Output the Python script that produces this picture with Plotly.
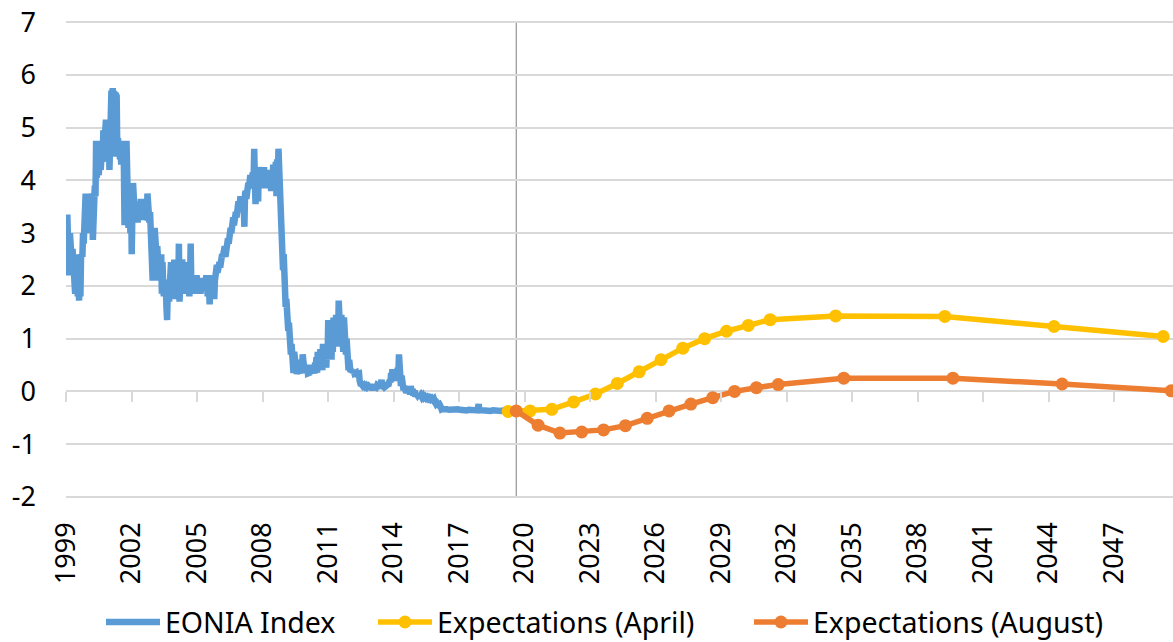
import plotly.graph_objects as go

# ---------------- data ----------------
eonia_year = [
    1999.00, 1999.02, 1999.04, 1999.06, 1999.08, 1999.10, 1999.12, 1999.15, 1999.18, 1999.21,
    1999.24, 1999.27, 1999.30, 1999.33, 1999.36, 1999.39, 1999.42, 1999.45, 1999.48, 1999.51,
    1999.54, 1999.57, 1999.60, 1999.63, 1999.66, 1999.69, 1999.72, 1999.75, 1999.78, 1999.81,
    1999.84, 1999.87, 1999.90, 1999.93, 1999.96, 1999.99, 2000.02, 2000.05, 2000.08, 2000.11,
    2000.14, 2000.17, 2000.20, 2000.23, 2000.26, 2000.29, 2000.32, 2000.35, 2000.38, 2000.41,
    2000.44, 2000.47, 2000.50, 2000.53, 2000.56, 2000.59, 2000.62, 2000.65, 2000.68, 2000.71,
    2000.74, 2000.77, 2000.80, 2000.83, 2000.86, 2000.89, 2000.92, 2000.95, 2000.99, 2001.02,
    2001.05, 2001.08, 2001.11, 2001.14, 2001.17, 2001.20, 2001.23, 2001.26, 2001.29, 2001.32,
    2001.35, 2001.38, 2001.41, 2001.44, 2001.47, 2001.50, 2001.53, 2001.56, 2001.59, 2001.62,
    2001.65, 2001.68, 2001.71, 2001.74, 2001.77, 2001.80, 2001.83, 2001.86, 2001.89, 2001.92,
    2001.95, 2001.98, 2002.01, 2002.04, 2002.07, 2002.10, 2002.13, 2002.16, 2002.19, 2002.22,
    2002.25, 2002.28, 2002.31, 2002.34, 2002.37, 2002.40, 2002.43, 2002.46, 2002.49, 2002.52,
    2002.55, 2002.58, 2002.61, 2002.64, 2002.67, 2002.70, 2002.73, 2002.76, 2002.79, 2002.82,
    2002.85, 2002.88, 2002.91, 2002.94, 2002.97, 2003.00, 2003.03, 2003.06, 2003.09, 2003.12,
    2003.15, 2003.18, 2003.21, 2003.24, 2003.27, 2003.30, 2003.33, 2003.36, 2003.39, 2003.42,
    2003.45, 2003.48, 2003.51, 2003.54, 2003.57, 2003.60, 2003.63, 2003.66, 2003.69, 2003.72,
    2003.75, 2003.78, 2003.81, 2003.84, 2003.87, 2003.90, 2003.93, 2003.96, 2003.99, 2004.02,
    2004.05, 2004.08, 2004.11, 2004.14, 2004.17, 2004.20, 2004.23, 2004.26, 2004.29, 2004.32,
    2004.35, 2004.38, 2004.41, 2004.44, 2004.47, 2004.50, 2004.53, 2004.56, 2004.59, 2004.62,
    2004.65, 2004.68, 2004.71, 2004.74, 2004.77, 2004.80, 2004.83, 2004.86, 2004.89, 2004.92,
    2004.95, 2004.98, 2005.01, 2005.04, 2005.07, 2005.10, 2005.13, 2005.16, 2005.19, 2005.22,
    2005.25, 2005.28, 2005.31, 2005.34, 2005.37, 2005.40, 2005.43, 2005.46, 2005.49, 2005.52,
    2005.55, 2005.58, 2005.61, 2005.64, 2005.67, 2005.70, 2005.73, 2005.76, 2005.79, 2005.82,
    2005.85, 2005.88, 2005.91, 2005.94, 2005.97, 2006.00, 2006.03, 2006.06, 2006.09, 2006.12,
    2006.15, 2006.18, 2006.21, 2006.24, 2006.27, 2006.30, 2006.33, 2006.36, 2006.39, 2006.42,
    2006.45, 2006.48, 2006.51, 2006.54, 2006.57, 2006.60, 2006.63, 2006.66, 2006.69, 2006.72,
    2006.75, 2006.78, 2006.81, 2006.84, 2006.87, 2006.90, 2006.93, 2006.96, 2006.99, 2007.02,
    2007.05, 2007.08, 2007.11, 2007.14, 2007.17, 2007.20, 2007.23, 2007.26, 2007.29, 2007.32,
    2007.35, 2007.38, 2007.41, 2007.44, 2007.47, 2007.50, 2007.53, 2007.56, 2007.59, 2007.62,
    2007.65, 2007.68, 2007.71, 2007.74, 2007.77, 2007.80, 2007.83, 2007.86, 2007.89, 2007.92,
    2007.95, 2007.98, 2008.01, 2008.04, 2008.07, 2008.10, 2008.13, 2008.16, 2008.19, 2008.22,
    2008.25, 2008.28, 2008.31, 2008.34, 2008.37, 2008.40, 2008.43, 2008.46, 2008.49, 2008.52,
    2008.55, 2008.58, 2008.61, 2008.64, 2008.67, 2008.70, 2008.73, 2008.76, 2008.79, 2008.82,
    2008.85, 2008.88, 2008.91, 2008.94, 2008.97, 2009.00, 2009.03, 2009.06, 2009.09, 2009.12,
    2009.15, 2009.18, 2009.21, 2009.24, 2009.27, 2009.30, 2009.33, 2009.36, 2009.39, 2009.42,
    2009.45, 2009.48, 2009.51, 2009.54, 2009.57, 2009.60, 2009.63, 2009.66, 2009.69, 2009.72,
    2009.75, 2009.78, 2009.81, 2009.84, 2009.87, 2009.90, 2009.93, 2009.96, 2009.99, 2010.02,
    2010.05, 2010.08, 2010.11, 2010.14, 2010.17, 2010.20, 2010.23, 2010.26, 2010.29, 2010.32,
    2010.35, 2010.38, 2010.41, 2010.44, 2010.47, 2010.50, 2010.53, 2010.56, 2010.59, 2010.62,
    2010.65, 2010.68, 2010.71, 2010.74, 2010.77, 2010.80, 2010.83, 2010.86, 2010.89, 2010.92,
    2010.95, 2010.98, 2011.01, 2011.04, 2011.07, 2011.10, 2011.13, 2011.16, 2011.19, 2011.22,
    2011.25, 2011.28, 2011.31, 2011.34, 2011.37, 2011.40, 2011.43, 2011.46, 2011.49, 2011.52,
    2011.55, 2011.58, 2011.61, 2011.64, 2011.67, 2011.70, 2011.73, 2011.76, 2011.79, 2011.82,
    2011.85, 2011.88, 2011.91, 2011.94, 2011.97, 2012.00, 2012.03, 2012.06, 2012.09, 2012.12,
    2012.15, 2012.18, 2012.21, 2012.24, 2012.27, 2012.30, 2012.33, 2012.36, 2012.39, 2012.42,
    2012.45, 2012.48, 2012.51, 2012.55, 2012.60, 2012.65, 2012.70, 2012.75, 2012.80, 2012.85,
    2012.90, 2012.95, 2013.00, 2013.05, 2013.10, 2013.15, 2013.20, 2013.25, 2013.30, 2013.35,
    2013.40, 2013.45, 2013.48, 2013.52, 2013.56, 2013.60, 2013.64, 2013.68, 2013.72, 2013.76,
    2013.80, 2013.83, 2013.86, 2013.89, 2013.92, 2013.95, 2013.98, 2014.01, 2014.04, 2014.07,
    2014.10, 2014.13, 2014.16, 2014.19, 2014.22, 2014.25, 2014.28, 2014.31, 2014.34, 2014.37,
    2014.40, 2014.43, 2014.46, 2014.49, 2014.52, 2014.55, 2014.58, 2014.61, 2014.64, 2014.67,
    2014.70, 2014.73, 2014.76, 2014.79, 2014.82, 2014.85, 2014.88, 2014.91, 2014.94, 2014.97,
    2015.00, 2015.05, 2015.10, 2015.15, 2015.20, 2015.25, 2015.30, 2015.35, 2015.40, 2015.45,
    2015.50, 2015.55, 2015.60, 2015.65, 2015.70, 2015.75, 2015.80, 2015.85, 2015.90, 2015.95,
    2016.00, 2016.05, 2016.10, 2016.15, 2016.20, 2016.25, 2016.30, 2016.35, 2016.45, 2016.55,
    2016.65, 2016.75, 2016.85, 2016.95, 2017.05, 2017.15, 2017.25, 2017.35, 2017.45, 2017.55,
    2017.65, 2017.75, 2017.85, 2017.90, 2017.93, 2018.05, 2018.15, 2018.25, 2018.35, 2018.45,
    2018.55, 2018.65, 2018.75, 2018.85, 2018.95, 2019.05, 2019.15, 2019.25, 2019.35, 2019.45,
    2019.55,
]
eonia_rate = [
    3.05, 3.30, 2.95, 3.35, 3.05, 2.20, 3.05, 2.75, 3.00, 2.50,
    2.90, 2.40, 2.70, 2.20, 2.55, 2.30, 1.85, 2.60, 1.95, 2.55,
    1.80, 2.45, 1.72, 2.55, 1.80, 2.60, 2.80, 2.55, 3.00, 2.80,
    3.10, 2.95, 3.75, 3.00, 3.70, 3.10, 3.05, 3.25, 3.70, 3.20,
    3.45, 3.30, 3.75, 2.87, 3.80, 3.60, 3.90, 3.70, 4.75, 4.05,
    4.20, 4.70, 4.10, 4.30, 4.75, 4.20, 4.45, 4.80, 4.35, 4.95,
    4.60, 4.90, 4.70, 5.15, 4.85, 5.05, 4.70, 5.10, 4.20, 5.00,
    5.20, 5.70, 4.90, 5.75, 4.60, 5.70, 4.45, 5.65, 4.70, 5.60,
    4.55, 4.80, 4.45, 4.75, 4.40, 4.55, 4.30, 4.60, 4.40, 4.75,
    4.35, 3.15, 4.70, 3.30, 4.75, 3.20, 3.90, 3.10, 3.90, 3.20,
    3.00, 3.85, 2.60, 3.40, 3.95, 3.30, 3.55, 3.25, 3.60, 3.30,
    3.45, 3.20, 3.60, 3.30, 3.50, 3.25, 3.65, 3.30, 3.55, 3.25,
    3.50, 3.30, 3.60, 3.25, 3.45, 3.30, 3.75, 3.30, 3.50, 3.20,
    3.40, 2.90, 3.30, 3.00, 2.10, 2.95, 2.80, 3.10, 2.70, 2.80,
    2.55, 2.75, 2.45, 2.60, 2.10, 2.55, 2.35, 2.60, 1.85, 2.45,
    2.05, 1.80, 2.10, 1.95, 2.05, 1.60, 1.35, 1.90, 2.05, 1.70,
    2.30, 1.85, 2.45, 1.90, 2.10, 1.75, 2.05, 2.50, 1.90, 2.10,
    1.80, 2.05, 2.45, 1.95, 2.80, 1.70, 2.05, 1.90, 2.10, 2.50,
    1.95, 2.05, 1.85, 2.30, 2.00, 2.10, 1.90, 2.45, 2.00, 2.05,
    1.80, 2.10, 2.80, 2.00, 1.90, 2.05, 2.20, 2.00, 2.05, 1.85,
    2.10, 2.20, 2.05, 1.95, 2.10, 2.00, 2.15, 1.85, 2.05, 2.10,
    1.95, 2.15, 2.05, 1.90, 2.10, 2.00, 2.20, 2.05, 1.80, 2.10,
    1.95, 1.65, 2.05, 2.15, 2.00, 2.10, 2.20, 2.05, 1.75, 2.10,
    2.30, 2.20, 2.40, 2.25, 2.35, 2.30, 2.45, 2.35, 2.55, 2.40,
    2.60, 2.55, 2.70, 2.60, 2.75, 2.55, 2.65, 2.85, 2.75, 2.90,
    2.80, 3.05, 2.95, 3.10, 3.00, 3.20, 3.05, 3.30, 3.15, 3.35,
    3.25, 3.40, 3.30, 3.45, 3.35, 3.60, 3.40, 3.55, 3.70, 3.50,
    3.55, 3.70, 3.60, 3.50, 3.12, 3.75, 3.80, 3.65, 3.85, 3.80,
    3.95, 3.85, 3.95, 4.10, 3.90, 4.00, 3.95, 4.15, 3.90, 4.60,
    4.00, 3.55, 4.10, 3.70, 4.20, 3.60, 4.25, 3.95, 4.05, 3.85,
    4.20, 3.90, 4.15, 3.95, 4.25, 3.90, 4.05, 3.85, 4.20, 3.95,
    4.10, 3.90, 4.15, 3.95, 4.05, 3.80, 4.00, 3.90, 4.30, 3.85,
    4.25, 4.05, 4.35, 3.70, 4.40, 3.80, 4.60, 4.20, 3.60, 3.30,
    3.55, 3.00, 2.90, 2.30, 2.60, 2.00, 2.20, 1.60, 1.75, 1.25,
    1.45, 1.15, 1.30, 0.85, 1.05, 0.70, 0.90, 0.55, 0.70, 0.35,
    0.75, 0.60, 0.35, 0.40, 0.33, 0.38, 0.35, 0.45, 0.35, 0.40,
    0.34, 0.60, 0.40, 0.70, 0.36, 0.45, 0.35, 0.50, 0.38, 0.35,
    0.45, 0.34, 0.40, 0.35, 0.50, 0.36, 0.45, 0.34, 0.40, 0.35,
    0.45, 0.34, 0.55, 0.40, 0.65, 0.35, 0.75, 0.45, 0.60, 0.40,
    0.80, 0.45, 0.70, 0.40, 0.90, 0.50, 0.85, 0.55, 0.60, 0.45,
    0.80, 0.60, 1.35, 0.70, 1.00, 0.65, 0.90, 0.60, 1.20, 0.75,
    1.40, 0.85, 1.25, 1.00, 1.45, 1.05, 1.35, 0.95, 1.72, 0.90,
    1.40, 0.85, 1.45, 0.80, 1.20, 0.75, 1.40, 0.80, 1.15, 0.70,
    1.00, 0.60, 0.75, 0.40, 0.60, 0.40, 0.37, 0.42, 0.36, 0.40,
    0.35, 0.38, 0.34, 0.37, 0.33, 0.36, 0.33, 0.35, 0.32, 0.34,
    0.20, 0.12, 0.11, 0.13, 0.10, 0.12, 0.09, 0.11, 0.08, 0.10,
    0.07, 0.13, 0.07, 0.09, 0.07, 0.08, 0.07, 0.12, 0.08, 0.09,
    0.07, 0.22, 0.10, 0.09, 0.11, 0.08, 0.10, 0.09, 0.12, 0.10,
    0.15, 0.22, 0.17, 0.35, 0.20, 0.42, 0.25, 0.30, 0.20, 0.40,
    0.25, 0.35, 0.20, 0.45, 0.30, 0.70, 0.35, 0.45, 0.10, 0.30,
    0.05, 0.25, 0.02, 0.10, 0.00, 0.05, -0.02, 0.02, -0.03, 0.08,
    -0.04, 0.00, -0.05, 0.10, -0.04, -0.06, 0.05, -0.08, -0.05, 0.02,
    -0.10, -0.05, -0.08, -0.05, -0.10, -0.07, -0.11, -0.08, -0.12, -0.10,
    -0.13, -0.11, -0.14, -0.12, -0.15, -0.13, -0.16, -0.14, -0.20, -0.24,
    -0.22, -0.25, -0.24, -0.28, -0.34, -0.33, -0.34, -0.35, -0.34, -0.35,
    -0.34, -0.35, -0.35, -0.34, -0.35, -0.36, -0.35, -0.36, -0.35, -0.36,
    -0.36, -0.35, -0.36, -0.24, -0.36, -0.36, -0.37, -0.36, -0.36, -0.37,
    -0.36, -0.37, -0.36, -0.36, -0.37, -0.36, -0.37, -0.36, -0.37, -0.36,
    -0.36,
]

april_year = [2019.25, 2020.25, 2021.25, 2022.25, 2023.25, 2024.25, 2025.25, 2026.25, 2027.25,
              2028.25, 2029.25, 2030.25, 2031.25, 2034.25, 2039.25, 2044.25, 2049.25]
april_rate = [-0.38, -0.37, -0.34, -0.20, -0.05, 0.15, 0.37, 0.60, 0.82,
              1.00, 1.14, 1.25, 1.36, 1.43, 1.42, 1.23, 1.04]

august_year = [2019.62, 2020.62, 2021.62, 2022.62, 2023.62, 2024.62, 2025.62, 2026.62, 2027.62,
               2028.62, 2029.62, 2030.62, 2031.62, 2034.62, 2039.62, 2044.62, 2049.62]
august_rate = [-0.37, -0.64, -0.79, -0.77, -0.73, -0.65, -0.51, -0.37, -0.24,
               -0.12, 0.00, 0.07, 0.13, 0.25, 0.25, 0.14, 0.01]

cutoff_year = 2019.62
tick_years = list(range(1999, 2048, 3))
y_ticks = list(range(-2, 8))

# ---------------- figure ----------------
FONT = "Noto Sans"
BLUE, YELLOW, ORANGE = "#5B9BD5", "#FFC000", "#ED7D31"
GRID = "#D9D9D9"
Y_RANGE = [-2.04, 7.04]
X_RANGE = [1999, 2049.7]

fig = go.Figure()
fig.add_trace(go.Scatter(x=eonia_year, y=eonia_rate, mode="lines", name="EONIA Index",
                         line=dict(color=BLUE, width=6.5), legendwidth=203))
fig.add_trace(go.Scatter(x=april_year, y=april_rate, mode="lines+markers",
                         name="Expectations (April)",
                         line=dict(color=YELLOW, width=5.5),
                         marker=dict(color=YELLOW, size=13), legendwidth=307))
fig.add_trace(go.Scatter(x=august_year, y=august_rate, mode="lines+markers",
                         name="Expectations (August)",
                         line=dict(color=ORANGE, width=5.5),
                         marker=dict(color=ORANGE, size=13), legendwidth=300))
# helper so the zero-crossing tick axis is drawn
fig.add_trace(go.Scatter(x=[cutoff_year], y=[None], xaxis="x2", mode="markers",
                         showlegend=False, hoverinfo="skip"))

fig.add_shape(type="line", xref="x", yref="y", x0=cutoff_year, x1=cutoff_year,
              y0=y_ticks[0], y1=y_ticks[-1], line=dict(color="#7F7F7F", width=1),
              layer="below")

zero_pos = (0 - Y_RANGE[0]) / (Y_RANGE[1] - Y_RANGE[0])

fig.update_layout(
    width=1173, height=642,
    margin=dict(l=66, r=0, t=20, b=143, autoexpand=False),
    paper_bgcolor="white", plot_bgcolor="white",
    font=dict(family=FONT, size=27, color="black"),
    showlegend=True,
    legend=dict(orientation="h", x=35 / 1107, xanchor="left", y=-0.2046, yanchor="top",
                font=dict(family=FONT, size=28.5, color="black"),
                itemwidth=54, tracegroupgap=0),
    xaxis=dict(range=X_RANGE, tickmode="array", tickvals=tick_years,
               ticktext=[str(t) for t in tick_years], tickangle=-90,
               showgrid=False, zeroline=False, showline=False, ticks="",
               automargin=False, ticklabeloverflow="allow",
               ticklabelstandoff=17, tickfont=dict(size=27)),
    xaxis2=dict(range=X_RANGE, overlaying="x", anchor="free", position=zero_pos,
                tickmode="array", tickvals=tick_years, showticklabels=False,
                showgrid=False, zeroline=False, showline=False, automargin=False,
                ticks="outside", ticklen=10, tickwidth=1.5, tickcolor=GRID),
    yaxis=dict(range=Y_RANGE, tickmode="array", tickvals=y_ticks,
               ticktext=[str(v) for v in y_ticks],
               showgrid=True, gridcolor=GRID, gridwidth=1.5, automargin=False,
               zeroline=False, showline=False, ticks="", ticklabeloverflow="allow",
               ticklabelstandoff=29, tickfont=dict(size=27)),
)

fig.write_html("out.html", config={"displayModeBar": False},
               post_script="document.body.style.margin = '0';")
